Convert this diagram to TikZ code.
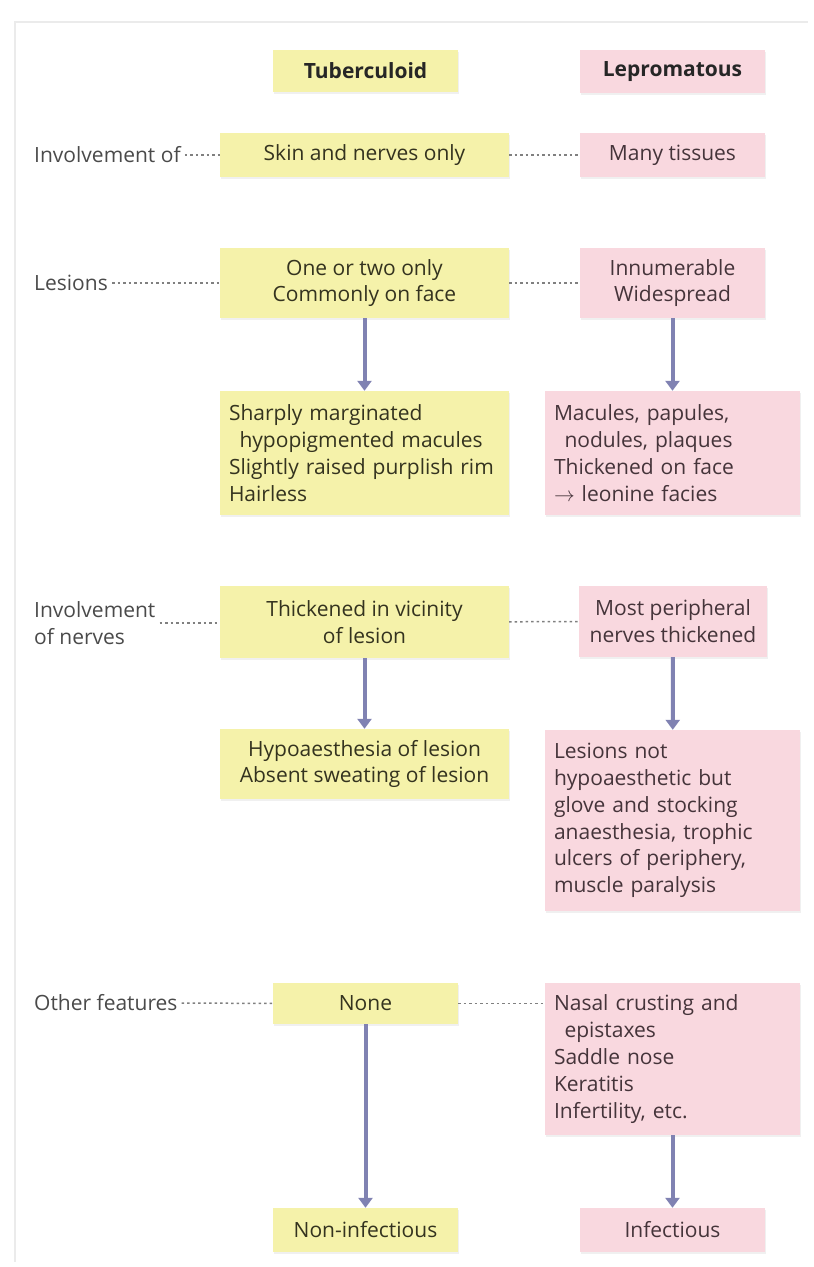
\documentclass[tikz,border=0pt]{standalone}
\usepackage{fontspec}
\setmainfont{Open Sans}
\usepackage{xcolor}
\usepackage{tikz}
\usetikzlibrary{arrows.meta,shadows}
\definecolor{custom_yellow}{HTML}{F5F2AA}
\definecolor{custom_pink}{HTML}{F9D8DF}
\definecolor{custom_olive}{HTML}{34331F}
\definecolor{custom_plum}{HTML}{45343A}
\definecolor{custom_slate}{HTML}{8082B2}
\definecolor{custom_gray}{HTML}{4A4A4A}

\tikzset{
  boxfont/.style={font=\fontsize{21}{26.8}\selectfont},
  cell/.style={boxfont, inner xsep=9pt, inner ysep=0pt, align=center,
    drop shadow={shadow xshift=1pt, shadow yshift=-1.5pt, opacity=0.12}},
  tcell/.style={cell, fill=custom_yellow, text=custom_olive},
  pcell/.style={cell, fill=custom_pink, text=custom_plum},
  rowlabel/.style={boxfont, text=custom_gray, anchor=west, inner sep=4pt, align=left},
  dots/.style={custom_gray!70, line width=1.5pt, dash pattern=on 2.5pt off 3pt},
  flow/.style={custom_slate, line width=4pt, -{Triangle[width=14pt,length=10pt]}}
}

\begin{document}
\begin{tikzpicture}[x=1pt, y=-1pt]
                \useasboundingbox (0,0) rectangle (814,1267);
                \draw[black!8, line width=1.5pt] (15,1262) -- (15,22) -- (808,22);

                % column heads
                \node (tHead) at (365.5,71) [tcell, minimum width=185pt, minimum height=42pt, text=black!85] {\bfseries Tuberculoid};
                \node (lHead) at (672.5,71.5) [pcell, minimum width=185pt, minimum height=43pt, text=black!85] {\bfseries Lepromatous};

                % tuberculoid column
                \node (tInv) at (364.5,155) [tcell, minimum width=289pt, minimum height=44pt] {Skin and nerves only};
                \node (tLes) at (364.5,283) [tcell, minimum width=289pt, minimum height=70pt] {One or two only\\Commonly on face};
                \node (tMac) at (364.5,453) [tcell, minimum width=289pt, minimum height=124pt, text width=271pt, align=left]
                    {Sharply marginated\\\hspace*{0.5em}hypopigmented macules\\Slightly raised purplish rim\\Hairless};
                \node (tNer) at (364.5,622) [tcell, minimum width=289pt, minimum height=72pt] {Thickened in vicinity\\of lesion};
                \node (tHyp) at (364.5,764) [tcell, minimum width=289pt, minimum height=70pt] {Hypoaesthesia of lesion\\Absent sweating of lesion};
                \node (tOth) at (365.5,1003.5) [tcell, minimum width=185pt, minimum height=41pt] {None};
                \node (tInf) at (365.5,1230) [tcell, minimum width=185pt, minimum height=44pt] {Non-infectious};

                % lepromatous column
                \node (lInv) at (672.5,155) [pcell, minimum width=185pt, minimum height=44pt] {Many tissues};
                \node (lLes) at (672.5,283) [pcell, minimum width=185pt, minimum height=70pt] {Innumerable\\Widespread};
                \node (lMac) at (672.5,453) [pcell, minimum width=255pt, minimum height=124pt, text width=237pt, align=left]
                    {Macules, papules,\\\hspace*{0.5em}nodules, plaques\\Thickened on face\\$\rightarrow$ leonine facies};
                \node (lNer) at (673,621.5) [pcell, minimum width=188pt, minimum height=71pt] {Most peripheral\\nerves thickened};
                \node (lHyp) at (672.5,820.5) [pcell, minimum width=255pt, minimum height=181pt, text width=237pt, align=left]
                    {Lesions not\\hypoaesthetic but\\glove and stocking\\anaesthesia, trophic\\ulcers of periphery,\\muscle paralysis};
                \node (lOth) at (672.5,1059) [pcell, minimum width=255pt, minimum height=152pt, text width=237pt, align=left]
                    {Nasal crusting and\\\hspace*{0.5em}epistaxes\\Saddle nose\\Keratitis\\Infertility, etc.};
                \node (lInf) at (672.5,1230) [pcell, minimum width=185pt, minimum height=44pt] {Infectious};

                % row labels
                \node (labInv) at (30,155) [rowlabel] {Involvement of};
                \node (labLes) at (30,283) [rowlabel] {Lesions};
                \node (labNer) at (30,623) [rowlabel] {Involvement\\of nerves};
                \node (labOth) at (30,1003) [rowlabel] {Other features};

                % dotted guides
                \draw[dots] (labInv) -- (tInv);
                \draw[dots] (tInv) -- (lInv);
                \draw[dots] (labLes) -- (tLes);
                \draw[dots] (tLes) -- (lLes);
                \draw[dots] (labNer.east) -- (labNer.east -| tNer.west);
                \draw[dots] (tNer) -- (lNer);
                \draw[dots] (labOth) -- (tOth);
                \draw[dots] (tOth) -- (tOth -| lOth.west);

                % arrows
                \draw[flow] (tLes) -- (tMac);
                \draw[flow] (lLes) -- (lMac);
                \draw[flow] (tNer) -- (tHyp);
                \draw[flow] (lNer) -- (lHyp);
                \draw[flow] (tOth) -- (tInf);
                \draw[flow] (lOth) -- (lInf);
            \end{tikzpicture}
\end{document}
